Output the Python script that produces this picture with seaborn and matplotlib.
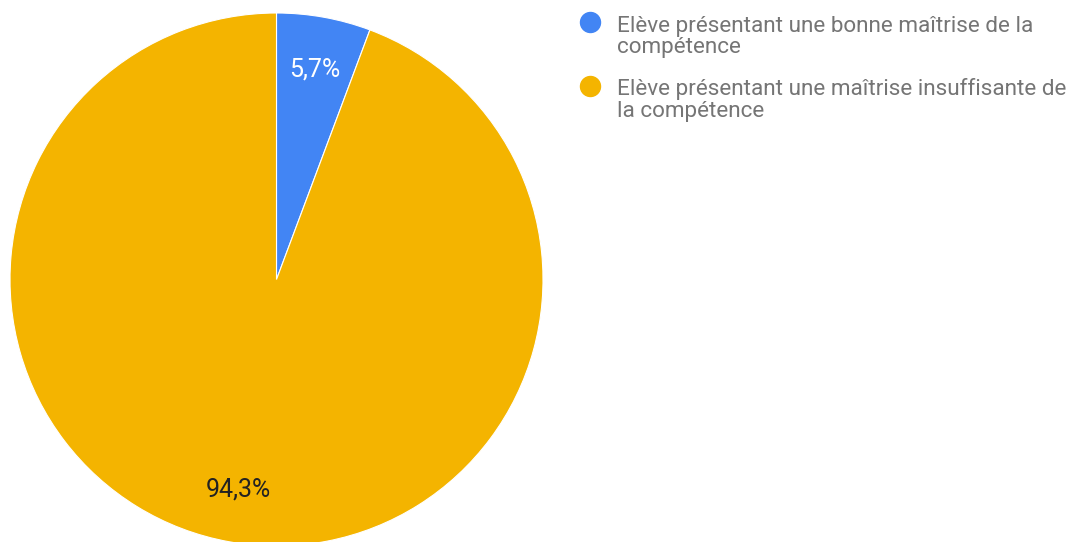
import matplotlib
matplotlib.use("Agg")
import matplotlib.pyplot as plt
from matplotlib.lines import Line2D
import seaborn as sns

# Share of pupils by level of mastery of the skill
categories = [
    "Elève présentant une bonne maîtrise de la\ncompétence",
    "Elève présentant une maîtrise insuffisante de\nla compétence",
]
values = [5.7, 94.3]
pct_labels = ["5,7%", "94,3%"]
colors = ["#4285F4", "#F4B400"]
label_colors = ["white", "#222222"]

sns.set_theme(style="white")
plt.rcParams["font.family"] = ["Roboto", "DejaVu Sans"]

W, H = 1075, 542
fig = plt.figure(figsize=(W / 100, H / 100), dpi=100)

# Pie area in pixel units: centre (276.5, 279.5), radius 266.5
cx, cy, r = 276.5, 279.5, 266.5
ax = fig.add_axes([(cx - r) / W, (H - cy - r) / H, 2 * r / W, 2 * r / H])

wedges, _, autotexts = ax.pie(
    values,
    colors=colors,
    startangle=90,
    counterclock=False,
    autopct="%1.1f%%",
    pctdistance=0.80,
    wedgeprops=dict(edgecolor="white", linewidth=0.8),
    radius=1.0,
)
for t, lbl, c in zip(autotexts, pct_labels, label_colors):
    t.set_text(lbl)
    t.set_color(c)
    t.set_fontsize(18)
ax.set_xlim(-1, 1)
ax.set_ylim(-1, 1)
ax.set_aspect("equal")
ax.axis("off")


def px(x, y):
    """Pixel position (from top-left) to figure fraction."""
    return x / W, 1 - y / H


# Legend: dot aligned with the first line of each wrapped label
entry_top = [31.7, 95.0]      # baseline of the first line of each entry
line_step = 21.5
for lab, c, base in zip(categories, colors, entry_top):
    mx, my = px(590, base - 9.5)
    fig.add_artist(Line2D([mx], [my], transform=fig.transFigure,
                          marker="o", linestyle="none", markersize=14.4,
                          markerfacecolor=c, markeredgecolor=c))
    for i, line in enumerate(lab.split("\n")):
        tx, ty = px(617, base + i * line_step)
        fig.text(tx, ty, line, fontsize=16.2, color="#757575",
                 ha="left", va="baseline")

fig.savefig("out.png", dpi=100)
